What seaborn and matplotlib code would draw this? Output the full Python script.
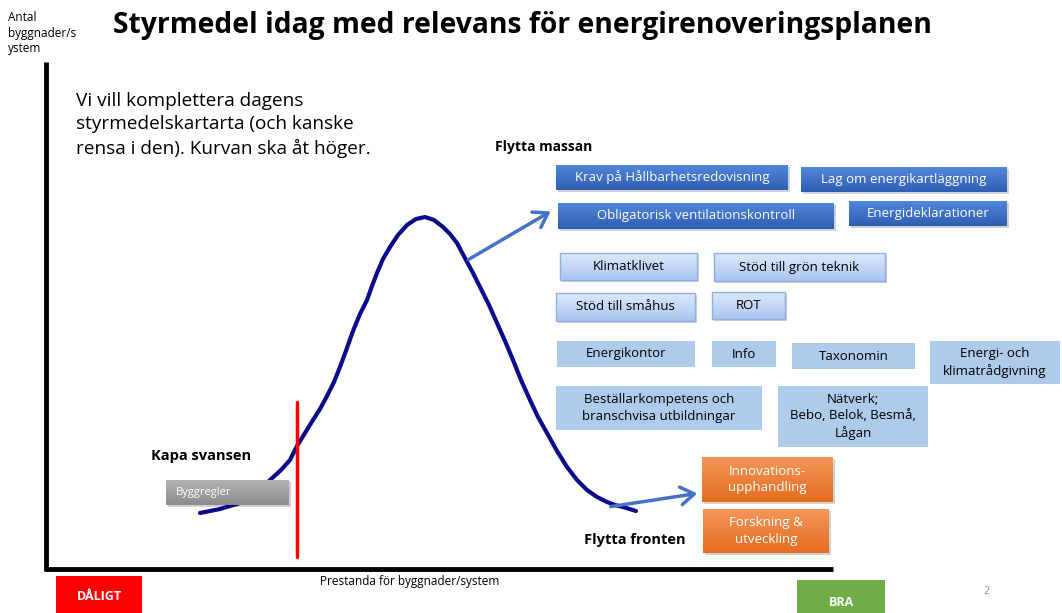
import numpy as np
import pandas as pd
import matplotlib.pyplot as plt
import seaborn as sns
from matplotlib.patches import Rectangle, FancyArrowPatch

# curve (pixel space, y grows downward)
curve_x = [200, 220, 240, 256, 270, 281, 290, 297, 305, 313, 320, 327, 334, 340, 347, 353, 360, 367, 372, 377, 383, 390,
           398, 407, 416, 425, 434, 443, 450, 457, 466, 473, 480, 489, 497, 505, 513, 521, 530, 538, 547, 557, 567, 577,
           587, 597, 607, 615, 623, 636]
curve_y = [513, 509, 503, 494, 480, 470, 460, 446, 433, 420, 409, 396, 382, 367, 348, 331, 314, 300, 286, 273, 259, 247,
           235, 225, 219, 217, 220, 227, 234, 243, 260, 273, 287, 305, 323, 341, 360, 380, 400, 417, 433, 451, 467, 480,
           490, 497, 502, 505, 507, 511]

title = "Styrmedel idag med relevans för energirenoveringsplanen"
note = "Vi vill komplettera dagens\nstyrmedelskartarta (och kanske\nrensa i den). Kurvan ska åt höger."

dark_labels = ["Krav på Hållbarhetsredovisning", "Lag om energikartläggning",
               "Obligatorisk ventilationskontroll", "Energideklarationer"]
light_labels = ["Klimatklivet", "Stöd till grön teknik", "Stöd till småhus", "ROT"]
flat_labels = ["Energikontor", "Info", "Taxonomin", "Energi- och\nklimatrådgivning",
               "Beställarkompetens och\nbranschvisa utbildningar", "Nätverk;\nBebo, Belok, Besmå,\nLågan"]
orange_labels = ["Innovations-\nupphandling", "Forskning &\nutveckling"]

# box layout (x0, y0, x1, y1)
dark_pos = [(556, 165, 788, 190), (801, 167, 1007, 192), (558, 203, 834, 229), (849, 201, 1007, 226)]
light_pos = [(560, 253, 697, 280), (714, 253, 885, 281), (556, 293, 695, 321), (712, 292, 785, 319)]
flat_pos = [(557, 341, 695, 367), (712, 341, 776, 367), (792, 343, 915, 369), (930, 341, 1060, 384),
            (556, 386, 762, 430), (778, 386, 928, 447)]
orange_pos = [(702, 457, 833, 502), (703, 509, 829, 553)]

sns.set_theme(style="white")
plt.rcParams['font.family'] = ['Open Sans', 'DejaVu Sans']
plt.rcParams['text.color'] = 'black'

fig = plt.figure(figsize=(10.62, 6.13), dpi=100)
ax = fig.add_axes([0, 0, 1, 1])


def grad_box(b, top, bottom, edge=None, shadow=True, z=3):
    x0, y0, x1, y1 = b
    if shadow:
        ax.add_patch(Rectangle((x0 + 2, y0 + 2), x1 - x0, y1 - y0, color='#000000', alpha=0.18, lw=0, zorder=z - 0.5))
    cmap = plt.matplotlib.colors.LinearSegmentedColormap.from_list('g', [top, bottom])
    g = np.linspace(0, 1, 64).reshape(-1, 1)
    ax.imshow(g, cmap=cmap, extent=(x0, x1, y1, y0), aspect='auto', zorder=z, interpolation='bilinear')
    if edge:
        ax.add_patch(Rectangle((x0, y0), x1 - x0, y1 - y0, fill=False, ec=edge, lw=1, zorder=z + 0.5))


def label(b, s, color, size=9.5):
    x0, y0, x1, y1 = b
    ax.text((x0 + x1) / 2, (y0 + y1) / 2, s, ha='center', va='center', color=color,
            fontsize=size, zorder=7, linespacing=1.35)


for b, s in zip(dark_pos, dark_labels):
    grad_box(b, '#5186da', '#2e5eb2')
    label(b, s, 'white')
for b, s in zip(light_pos, light_labels):
    grad_box(b, '#dde9fb', '#a9c6f0', edge='#8fb0e0')
    label(b, s, 'black')
for b, s in zip(flat_pos, flat_labels):
    ax.add_patch(Rectangle((b[0], b[1]), b[2] - b[0], b[3] - b[1], color='#aecbeb', lw=0, zorder=3))
    label(b, s, 'black')
for b, s in zip(orange_pos, orange_labels):
    grad_box(b, '#f4955a', '#e56d1f')
    label(b, s, 'white')
# the rule box sits on top of the curve tail
grad_box((166, 480, 289, 505), '#b3b3b3', '#8c8c8c', z=5.5)
ax.text(176, 492.5, "Byggregler", ha='left', va='center', color='white', fontsize=8, zorder=7)

# axes of the sketch
ax.plot([46, 46], [62, 571], color='black', lw=3.5, solid_capstyle='butt', zorder=2)
ax.plot([44.5, 833], [569, 569], color='black', lw=3.5, solid_capstyle='butt', zorder=2)

# bell curve
df = pd.DataFrame({"x": curve_x, "y": curve_y})
sns.lineplot(data=df, x="x", y="y", ax=ax, color='#0a0a8c', lw=3, sort=False, zorder=4)

# cut line
ax.plot([297, 297], [402, 557], color='#ff0000', lw=2.5, zorder=6)

# arrows
for p0, p1 in [((466, 261), (553, 210)), ((608, 507), (700, 493))]:
    ax.add_patch(FancyArrowPatch(p0, p1, arrowstyle='->,head_length=6,head_width=4', color='#4472c4',
                                 lw=2.5, mutation_scale=1.6, zorder=6))

ax.text(522, 25, title, ha='center', va='center', fontsize=20.3, fontweight='bold')
ax.text(8, 33, "Antal\nbyggnader/s\nystem", ha='left', va='center', fontsize=8.5, linespacing=1.25)
ax.text(76, 125, note, ha='left', va='center', fontsize=13.7, linespacing=1.35)
ax.text(495, 147, "Flytta massan", ha='left', va='center', fontsize=10, fontweight='bold')
ax.text(151, 456, "Kapa svansen", ha='left', va='center', fontsize=10.5, fontweight='bold')
ax.text(584, 540, "Flytta fronten", ha='left', va='center', fontsize=10.5, fontweight='bold')
ax.text(320, 582, "Prestanda för byggnader/system", ha='left', va='center', fontsize=8.5)
ax.text(983, 592, "2", ha='left', va='center', fontsize=7.5, color='#8c8c8c')

ax.add_patch(Rectangle((56, 576), 86, 40, color='#ff0000', lw=0, zorder=3))
ax.text(99, 597, "DÅLIGT", ha='center', va='center', color='white', fontsize=9, fontweight='bold', zorder=7)
ax.add_patch(Rectangle((797, 580), 88, 36, color='#70ad47', lw=0, zorder=3))
ax.text(841, 602, "BRA", ha='center', va='center', color='white', fontsize=9, fontweight='bold', zorder=7)

ax.set_xlim(0, 1062)
ax.set_ylim(613, 0)
ax.axis('off')

fig.savefig("out.png", dpi=100)
